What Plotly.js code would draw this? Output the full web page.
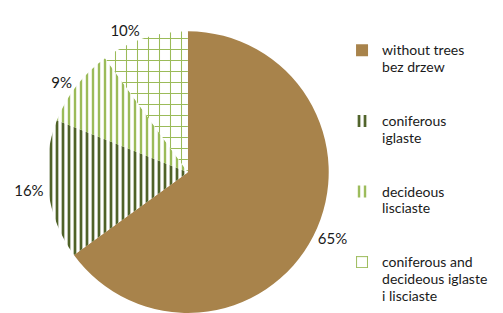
<!DOCTYPE html>
<html><head><meta charset="utf-8">
<script src="https://cdn.plot.ly/plotly-3.0.1.min.js"></script>
<style>html,body{margin:0;padding:0;background:#fff}#chart{width:503px;height:313px}</style>
</head><body><div id="chart"></div>
<script>
const S = "<span style='font-size:14px'>";
const E = "</span>";
const labels = [
  S + "without trees" + E + "<br>" + S + "bez drzew" + E + "<br> <br> ",
  S + "coniferous" + E + "<br>" + S + "iglaste" + E + "<br> <br> ",
  S + "decideous" + E + "<br>" + S + "lisciaste" + E + "<br> <br> ",
  S + "coniferous and" + E + "<br>" + S + "decideous iglaste" + E + "<br>" + S + "i lisciaste" + E
];
const values = [65, 16, 9, 10];
const fillColors = ["#a8834b", "#ffffff", "#ffffff", "#ffffff"];
const patternShapes = ["", "|", "|", "+"];
const patternColors = ["#a8834b", "#4f6228", "#9bbb59", "#9bbb59"];
const patternSizes = [6, 6, 6, 11];
const patternSolidity = [0.4, 0.45, 0.4, 0.18];

Plotly.newPlot("chart", [{
  type: "pie",
  labels: labels,
  values: values,
  sort: false,
  direction: "clockwise",
  rotation: 0,
  textposition: "outside",
  texttemplate: "%{percent:.0%}",
  textfont: {family: "Lato, sans-serif", size: 15, color: "#1a1a1a"},
  marker: {
    colors: fillColors,
    line: {width: 0},
    pattern: {shape: patternShapes, fgcolor: patternColors, bgcolor: fillColors, size: patternSizes, solidity: patternSolidity}
  },
  domain: {x: [0.089, 0.658], y: [0, 0.9]},
  hoverinfo: "none"
}], {
  width: 503, height: 313,
  margin: {l: 0, r: 0, t: 0, b: 0},
  paper_bgcolor: "#fff",
  showlegend: true,
  legend: {x: 0.68, y: 0.887, xanchor: "left", yanchor: "top", valign: "top",
    bgcolor: "rgba(0,0,0,0)",
    font: {family: "Lato, sans-serif", size: 13, color: "#1a1a1a"}, itemwidth: 30}
}, {displayModeBar: false, staticPlot: true});
</script></body></html>
